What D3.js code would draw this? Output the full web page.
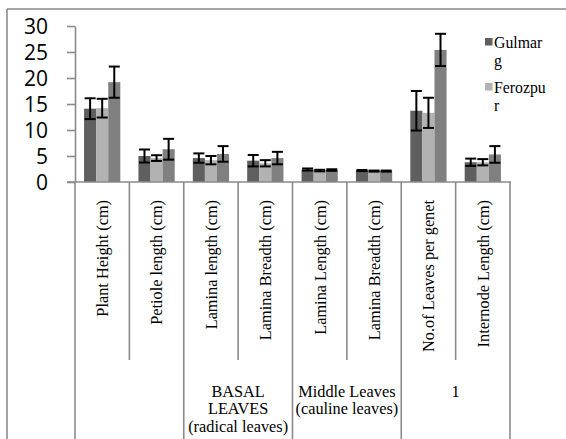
<!DOCTYPE html>
<html>
<head>
<meta charset="utf-8">
<script src="https://cdn.jsdelivr.net/npm/d3@7"></script>
<style>
  html, body { margin: 0; padding: 0; background: #fff; }
  svg { display: block; }
  .serif { font-family: "Liberation Serif", "Times New Roman", Times, "DejaVu Serif", serif; }
  .sans { font-family: "Open Sans", "Liberation Sans", sans-serif; }
</style>
</head>
<body>
<svg id="chart" width="566" height="439"></svg>
<script>
// Morphological characters measured at three sites (mean ± SD)
const categories = [
  "Plant Height (cm)",
  "Petiole length (cm)",
  "Lamina length (cm)",
  "Lamina Breadth (cm)",
  "Lamina Length (cm)",
  "Lamina Breadth (cm) ",
  "No.of Leaves per genet",
  "Internode Length (cm)"
];
const categoryLabels = [
  "Plant Height (cm)",
  "Petiole length (cm)",
  "Lamina length (cm)",
  "Lamina Breadth (cm)",
  "Lamina Length (cm)",
  "Lamina Breadth (cm)",
  "No.of Leaves per genet",
  "Internode Length (cm)"
];
// Category groups (second axis level): start index, count, label lines
const groupStarts = [0, 2, 4, 6];
const groupSizes = [2, 2, 2, 2];
const groupLabels = [
  [],
  ["BASAL", "LEAVES", "(radical leaves)"],
  ["Middle Leaves", "(cauline leaves)"],
  ["1"]
];

const seriesKeys = ["s1", "s2", "s3"];
const legendLines = [["Gulmar", "g"], ["Ferozpu", "r"]];

const gulmarg     = [14.1, 5.0, 4.6, 4.1, 2.4, 2.2, 13.7, 3.8];
const gulmargErr  = [2.0, 1.25, 0.9, 1.1, 0.2, 0.1, 3.8, 0.7];
const ferozpur    = [14.2, 4.6, 4.2, 3.6, 2.2, 2.1, 13.3, 3.8];
const ferozpurErr = [1.8, 0.55, 0.8, 0.6, 0.15, 0.1, 2.9, 0.6];
const site3       = [19.2, 6.3, 5.4, 4.6, 2.3, 2.1, 25.4, 5.3];
const site3Err    = [3.0, 2.0, 1.5, 1.2, 0.15, 0.1, 3.1, 1.6];

const yTicks = [0, 5, 10, 15, 20, 25, 30];

const values = [gulmarg, ferozpur, site3];
const errors = [gulmargErr, ferozpurErr, site3Err];
const colors = ["#5f5f5f", "#b2b2b2", "#808080"];

const svg = d3.select("#chart");
const axisColor = "#8a8a8a";

// Plot frame
const plotLeft = 75, plotRight = 510, plotTop = 26, plotBottom = 182;

const x = d3.scaleBand().domain(categories).range([plotLeft, plotRight]).padding(0);
const xs = d3.scaleBand().domain(seriesKeys).range([0, x.bandwidth()])
  .paddingInner(0).paddingOuter(0.75);
const y = d3.scaleLinear().domain([0, 30]).range([plotBottom, plotTop]);

// Outer border (top and left edges)
svg.append("line").attr("x1", 7).attr("x2", 566).attr("y1", 9).attr("y2", 9)
  .attr("stroke", axisColor).attr("stroke-width", 1.6);
svg.append("line").attr("x1", 7).attr("x2", 7).attr("y1", 9).attr("y2", 439)
  .attr("stroke", axisColor).attr("stroke-width", 1.6);

// Bars
const bars = [];
categories.forEach((c, i) => {
  seriesKeys.forEach((s, j) => {
    bars.push({ c, s, j, v: values[j][i], e: errors[j][i] });
  });
});

svg.append("g").selectAll("rect").data(bars).join("rect")
  .attr("x", d => x(d.c) + xs(d.s))
  .attr("y", d => y(d.v))
  .attr("width", xs.bandwidth())
  .attr("height", d => y(0) - y(d.v))
  .attr("fill", d => colors[d.j]);

// Error bars
const eg = svg.append("g").attr("stroke", "#000").attr("stroke-width", 2).attr("fill", "none");
const capHalf = 5.5;
bars.forEach(d => {
  const cx = x(d.c) + xs(d.s) + xs.bandwidth() / 2;
  const yt = y(d.v + d.e), yb = y(d.v - d.e);
  eg.append("line").attr("x1", cx).attr("x2", cx).attr("y1", yt).attr("y2", yb);
  eg.append("line").attr("x1", cx - capHalf).attr("x2", cx + capHalf).attr("y1", yt).attr("y2", yt);
  eg.append("line").attr("x1", cx - capHalf).attr("x2", cx + capHalf).attr("y1", yb).attr("y2", yb);
});

// Y axis
const yAxis = svg.append("g").attr("transform", `translate(${plotLeft},0)`)
  .call(d3.axisLeft(y).tickValues(yTicks).tickSize(8).tickSizeOuter(0).tickPadding(19));
yAxis.attr("font-family", null).attr("font-size", null);
yAxis.select(".domain").attr("stroke", axisColor).attr("stroke-width", 1.6);
yAxis.selectAll(".tick line").attr("stroke", axisColor).attr("stroke-width", 1.6);
yAxis.selectAll(".tick text")
  .attr("class", "sans")
  .style("font-size", "21px")
  .attr("fill", "#000")
  .attr("dy", "0.36em");

// X axis line
svg.append("line").attr("x1", plotLeft - 8).attr("x2", plotRight + 1)
  .attr("y1", plotBottom).attr("y2", plotBottom)
  .attr("stroke", axisColor).attr("stroke-width", 1.6);

// Category separators: group edges run to the bottom, inner ones stop at the first level
const edges = d3.range(categories.length + 1);
const edgeX = i => i < categories.length ? x(categories[i]) : x(categories[categories.length - 1]) + x.bandwidth();
const isGroupEdge = i => i === categories.length || groupStarts.includes(i);
svg.append("g").selectAll("line").data(edges).join("line")
  .attr("x1", edgeX).attr("x2", edgeX)
  .attr("y1", plotBottom)
  .attr("y2", i => isGroupEdge(i) ? 439 : 360)
  .attr("stroke", axisColor).attr("stroke-width", 1.6);

// Rotated category labels
svg.append("g").selectAll("text").data(categories).join("text")
  .attr("class", "serif")
  .attr("transform", (c) => `translate(${x(c) + x.bandwidth() / 2 + 0.5},200) rotate(-90)`)
  .attr("text-anchor", "end")
  .attr("dy", "0.33em")
  .style("font-size", "16.3px")
  .attr("fill", "#000")
  .text((c, i) => categoryLabels[i]);

// Group labels
groupStarts.forEach((s, gi) => {
  const x0 = x(categories[s]);
  const x1 = x(categories[s + groupSizes[gi] - 1]) + x.bandwidth();
  const t = svg.append("text")
    .attr("class", "serif").style("font-size", "16.3px").attr("fill", "#000")
    .attr("text-anchor", "middle");
  groupLabels[gi].forEach((line, li) => {
    t.append("tspan").attr("x", (x0 + x1) / 2).attr("y", 396.5 + li * 17.5).text(line);
  });
});

// Legend
const lg = svg.append("g");
legendLines.forEach((lines, i) => {
  const top = 38 + i * 45;
  lg.append("rect").attr("x", 485).attr("y", top).attr("width", 7.5).attr("height", 7.5)
    .attr("fill", colors[i]);
  const t = lg.append("text").attr("class", "serif").style("font-size", "15.8px").attr("fill", "#000");
  lines.forEach((line, li) => {
    t.append("tspan").attr("x", 494).attr("y", top + 10 + li * 17.5).text(line);
  });
});
</script>
</body>
</html>
